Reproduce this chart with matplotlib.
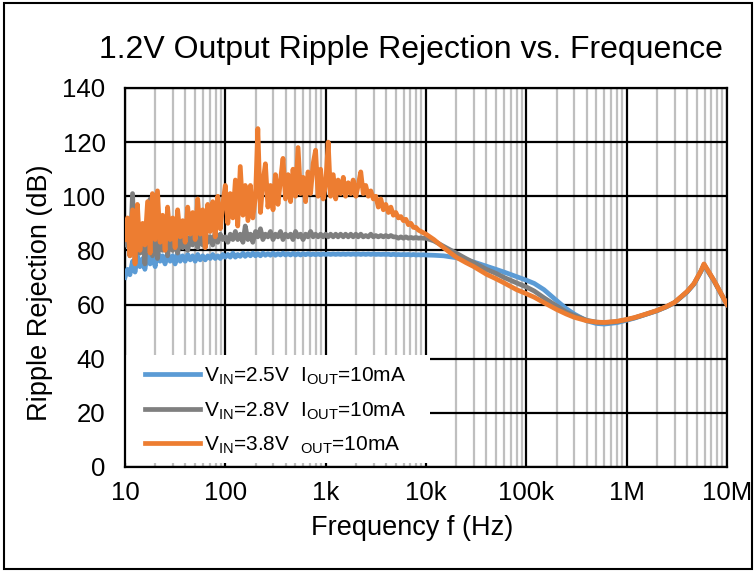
import matplotlib
matplotlib.use("Agg")
import matplotlib.pyplot as plt
from matplotlib.patches import Rectangle
from matplotlib.ticker import FixedLocator, LogLocator, NullFormatter

plt.rcParams['font.family'] = ['Liberation Sans', 'DejaVu Sans']
plt.rcParams['mathtext.fontset'] = 'custom'
plt.rcParams['mathtext.rm'] = 'Liberation Sans'

# sweep points: 40 per decade from 10 Hz to 10 kHz, then a coarser table up to 10 MHz
sweep_mant = [1.00, 1.06, 1.12, 1.19, 1.26, 1.33, 1.41, 1.50, 1.58, 1.68,
              1.78, 1.88, 2.00, 2.11, 2.24, 2.37, 2.51, 2.66, 2.82, 2.99,
              3.16, 3.35, 3.55, 3.76, 3.98, 4.22, 4.47, 4.73, 5.01, 5.31,
              5.62, 5.96, 6.31, 6.68, 7.08, 7.50, 7.94, 8.41, 8.91, 9.44]
freq_lo = [m * 10 ** d for d in (1, 2, 3) for m in sweep_mant]
freq_hi = [10e3, 12e3, 15e3, 20e3, 25e3, 30e3, 40e3, 50e3, 60e3, 80e3,
           100e3, 120e3, 150e3, 200e3, 250e3, 300e3, 400e3, 500e3, 600e3, 800e3,
           1e6, 1.2e6, 1.5e6, 2e6, 2.5e6, 3e6, 4e6, 4.7e6, 5.5e6, 5.9e6,
           7.4e6, 10e6]

# VIN = 2.5V
rr_25_lo = [70, 73, 71, 76, 72, 78, 74, 77, 73, 79,
            75, 78, 74, 80, 76, 78, 75, 79, 76, 78,
            75, 79, 76, 78, 76, 78.5, 76.5, 78, 76, 78.5,
            76.5, 78, 76.5, 78, 77, 78.5, 77, 78, 77, 78.5,
            77.5, 78.5, 77.5, 79, 77.5, 78.5, 77.8, 79, 77.8, 78.8,
            78, 79, 78, 78.8, 78, 79, 78.2, 78.8, 78.2, 79,
            78.2, 78.8, 78.3, 79, 78.3, 78.8, 78.3, 78.9, 78.3, 78.8,
            78.3, 78.8, 78.4, 78.8, 78.4, 78.7, 78.4, 78.7, 78.4, 78.7,
            78.5, 78.7, 78.5, 78.7, 78.5, 78.7, 78.5, 78.7, 78.5, 78.7,
            78.5, 78.7, 78.5, 78.7, 78.5, 78.7, 78.5, 78.7, 78.5, 78.7,
            78.5, 78.6, 78.5, 78.6, 78.5, 78.6, 78.4, 78.6, 78.4, 78.5,
            78.4, 78.5, 78.4, 78.5, 78.3, 78.5, 78.3, 78.4, 78.3, 78.4]
rr_25_hi = [78.3, 78.2, 78.0, 77.3, 76.5, 75.7, 74.2, 73.0, 72.0, 70.3,
            69.0, 67.8, 65.5, 61.5, 58.5, 56.5, 54.0, 53.0, 52.8, 53.3,
            54.2, 55.0, 56.2, 57.7, 59.2, 60.7, 64.6, 67.6, 72.2, 74.6,
            68.8, 60.0]

# VIN = 2.8V
rr_28_lo = [82, 88, 78, 101, 76, 90, 79, 87, 75, 92,
            99, 78, 89, 77, 86, 80, 88, 78, 85, 80,
            90, 79, 84, 81, 87, 80, 85, 82, 88, 81,
            86, 82, 87, 83, 85, 82, 87, 83, 86, 84,
            85, 83, 86, 84, 87, 84, 86, 83, 89, 84,
            86, 83, 87, 85, 88, 84, 86, 85, 87, 84,
            86, 85, 87, 84, 86, 85, 86, 84, 87, 85,
            86, 84, 86, 85, 87, 85, 86, 85, 86, 85,
            86, 85, 86, 85, 86, 85, 86, 85, 86, 85,
            86, 85, 86, 85, 86, 85, 85.5, 85, 86, 85,
            85.5, 85, 85.5, 85, 85.5, 85, 85.5, 85, 85, 84.5,
            85, 84.5, 85, 84.5, 84.8, 84.5, 84.8, 84.5, 84.6, 84.5]
rr_28_hi = [84.5, 83.5, 81.5, 79.0, 77.0, 75.5, 73.0, 71.5, 70.0, 68.0,
            66.5, 65.0, 62.5, 59.5, 57.2, 56.0, 54.2, 53.5, 53.3, 53.7,
            54.4, 55.1, 56.2, 57.7, 59.2, 60.7, 64.7, 67.7, 72.3, 74.8,
            68.9, 60.0]

# VIN = 3.8V
rr_38_lo = [84, 92, 78, 95, 75, 97, 80, 90, 82, 98,
            79, 101, 84, 102, 83, 93, 80, 96, 84, 92,
            81, 95, 85, 91, 83, 96, 86, 94, 84, 99,
            86, 95, 81, 97, 87, 98, 85, 100, 88, 97,
            104, 90, 101, 92, 106, 89, 111, 93, 104, 91,
            104, 92, 100, 125, 94, 105, 112, 96, 104, 95,
            108, 97, 106, 114, 99, 108, 98, 110, 100, 118,
            101, 107, 98, 109, 101, 112, 117, 100, 110, 99,
            104, 120, 100, 108, 99, 106, 101, 107, 100, 105,
            101, 106, 100, 104, 109, 101, 104, 100, 102, 99,
            100, 96, 99, 95, 97, 94, 96, 93, 94, 92,
            92.5, 91, 91.5, 89.5, 90, 88.5, 88.5, 87.5, 87, 86.5]
rr_38_hi = [86.0, 84.0, 81.0, 77.5, 75.5, 74.0, 71.2, 69.5, 68.0, 65.5,
            64.0, 62.7, 60.7, 58.2, 56.5, 55.3, 54.0, 53.5, 53.4, 53.8,
            54.5, 55.2, 56.3, 57.8, 59.3, 60.8, 64.8, 67.8, 72.4, 75.0,
            69.0, 60.0]

labels = [r'V$_{\mathrm{IN}}$=2.5V  I$_{\mathrm{OUT}}$=10mA',
          r'V$_{\mathrm{IN}}$=2.8V  I$_{\mathrm{OUT}}$=10mA',
          r'V$_{\mathrm{IN}}$=3.8V  ${}_{\mathrm{OUT}}$=10mA']
colors = ['#5B9BD5', '#7F7F7F', '#ED7D31']
x_ticks = [10, 100, 1e3, 1e4, 1e5, 1e6, 1e7]
x_ticklabels = ['10', '100', '1k', '10k', '100k', '1M', '10M']
y_ticks = [0, 20, 40, 60, 80, 100, 120, 140]

fig = plt.figure(figsize=(7.56, 5.72), dpi=100)
ax = fig.add_axes([0.1653, 0.1836, 0.7963, 0.6626])

freq = freq_lo + freq_hi
series = [rr_25_lo + rr_25_hi, rr_28_lo + rr_28_hi, rr_38_lo + rr_38_hi]
for vals, c, lab in zip(series, colors, labels):
    ax.plot(freq, vals, color=c, lw=3.4, label=lab, zorder=3, solid_joinstyle='round')

ax.set_xscale('log')
ax.set_xlim(10, 1e7)
ax.set_ylim(0, 140)
ax.xaxis.set_major_locator(FixedLocator(x_ticks))
ax.set_xticklabels(x_ticklabels)
ax.xaxis.set_minor_locator(LogLocator(base=10, subs=range(2, 10), numticks=20))
ax.xaxis.set_minor_formatter(NullFormatter())
ax.set_yticks(y_ticks)

ax.set_axisbelow(True)
ax.grid(which='minor', axis='x', color='#BFBFBF', lw=1.6)
ax.grid(which='major', axis='both', color='black', lw=1.6)
ax.tick_params(which='both', length=0, labelsize=18.5)
ax.tick_params(axis='x', pad=10)
ax.tick_params(axis='y', pad=14)
for s in ax.spines.values():
    s.set_linewidth(1.6)

# white panel behind the legend hides the grid there
ax.add_patch(Rectangle((0, 0.01), 0.507, 0.285, transform=ax.transAxes,
                       facecolor='white', edgecolor='none', zorder=2))
ax.legend(loc='upper left', bbox_to_anchor=(0.02, 0.29), frameon=False,
          fontsize=15, handlelength=2.6, handletextpad=0.2, labelspacing=0.62,
          borderaxespad=0)

ax.set_xlabel('Frequency f (Hz)', fontsize=19.5)
ax.xaxis.set_label_coords(0.477, -0.128)
ax.set_ylabel('Ripple Rejection (dB)', fontsize=19.5)
ax.yaxis.set_label_coords(-0.12, 0.46)
fig.text(0.543, 0.913, '1.2V Output Ripple Rejection vs. Frequence',
         fontsize=23, ha='center', va='center')

fig.add_artist(Rectangle((0.005, 0.005), 0.99, 0.99, transform=fig.transFigure,
                         fill=False, edgecolor='black', lw=1.5))

fig.savefig('out.png', dpi=100)
